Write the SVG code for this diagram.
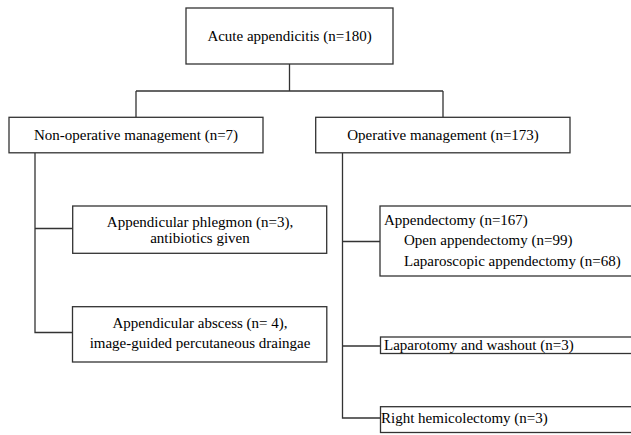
<svg xmlns="http://www.w3.org/2000/svg" width="631" height="435" viewBox="0 0 631 435">
<style>
.box{fill:#fff;stroke:#333;stroke-width:1.3}
.ln{fill:none;stroke:#333;stroke-width:1.3}
text{font-family:'Liberation Serif','Times New Roman',serif;font-size:15px;fill:#000}
.c{text-anchor:middle}
</style>
<rect width="631" height="435" fill="#fff"/>
<g id="connectors">
<path class="ln" d="M289.5 64V91M136 91H443M136 91V117M443 91V117"/>
<path class="ln" d="M35 153V332.5H72.5M35 228.5H72.5"/>
<path class="ln" d="M342.5 153V418H380.5M342.5 241.5H380M342.5 346H380.5"/>
</g>
<g id="n-acute">
<rect class="box" x="186" y="8" width="207" height="56"/>
<text class="c" x="289.5" y="41">Acute appendicitis (n=180)</text>
</g>
<g id="n-nonop">
<rect class="box" x="9" y="117.3" width="254" height="35.5"/>
<text class="c" x="136" y="140">Non-operative management (n=7)</text>
</g>
<g id="n-op">
<rect class="box" x="315.7" y="117.3" width="254.3" height="35.5"/>
<text class="c" x="443" y="140">Operative management (n=173)</text>
</g>
<g id="n-phlegmon">
<rect class="box" x="72.7" y="206" width="254" height="47.3"/>
<text class="c" x="200" y="227">Appendicular phlegmon (n=3),</text>
<text class="c" x="200" y="243">antibiotics given</text>
</g>
<g id="n-abscess">
<rect class="box" x="72.5" y="306.7" width="254.3" height="55.3"/>
<text class="c" x="200" y="328">Appendicular abscess (n= 4),</text>
<text class="c" x="200" y="348">image-guided percutaneous draingae</text>
</g>
<g id="n-appendectomy">
<rect class="box" x="380" y="206" width="260" height="70"/>
<text x="384" y="225">Appendectomy (n=167)</text>
<text x="404" y="245">Open appendectomy (n=99)</text>
<text x="404" y="266">Laparoscopic appendectomy (n=68)</text>
</g>
<g id="n-laparotomy">
<rect class="box" x="380.5" y="337" width="260" height="16.5"/>
<text x="384" y="350">Laparotomy and washout (n=3)</text>
</g>
<g id="n-hemicolectomy">
<rect class="box" x="380.5" y="406.7" width="260" height="25.8"/>
<text x="381" y="423">Right hemicolectomy (n=3)</text>
</g>
</svg>
